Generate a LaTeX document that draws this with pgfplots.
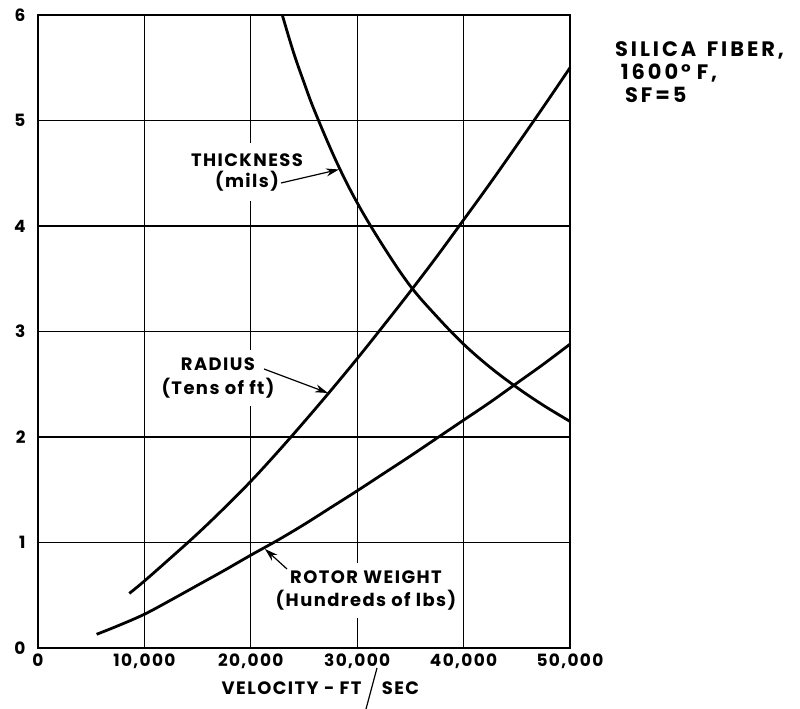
\documentclass[border=0pt]{standalone}
\usepackage{fontspec}
\setmainfont{Poppins}[LetterSpace=8]
\usepackage{pgfplots}
\pgfplotsset{compat=1.18}
\usetikzlibrary{arrows.meta}

\pgfplotstableread{
x y
8580 0.517
10000 0.635
12500 0.857
15000 1.084
17500 1.326
20000 1.580
22500 1.855
25000 2.142
27500 2.438
30000 2.743
32500 3.059
35000 3.381
37500 3.713
40000 4.058
42500 4.406
45000 4.765
47500 5.129
50000 5.5
}\radius

\pgfplotstableread{
x y
22960 6.0
24000 5.65
25000 5.36
26000 5.09
28000 4.62
30000 4.22
32500 3.80
35000 3.43
37500 3.14
40000 2.88
42500 2.66
45000 2.47
47500 2.30
50000 2.148
}\thickness

\pgfplotstableread{
x y
5510 0.13
7500 0.21
10000 0.32
12500 0.455
15000 0.595
17500 0.735
20000 0.88
22500 1.02
25000 1.17
27500 1.33
30000 1.49
32500 1.655
35000 1.82
37500 1.99
40000 2.16
42500 2.33
45000 2.51
47500 2.69
50000 2.88
}\rotor

\begin{document}
\begin{tikzpicture}[x=1bp,y=1bp,font=\bfseries]
\useasboundingbox (-38,-61) rectangle (762,648);
\begin{axis}[at={(0,0)},anchor=south west,
  scale only axis, width=532bp, height=633bp,
  xmin=0,xmax=50000,ymin=0,ymax=6,
  xtick={0,10000,20000,30000,40000,50000},
  xticklabels={0,{10,000},{20,000},{30,000},{40,000},{50,000}},
  ytick={0,1,2,3,4,5,6},
  grid=major,
  major grid style={black,line width=1.1bp},
  axis line style={black,line width=1.6bp},
  major tick length=0pt,
  tick label style={font=\bfseries\fontsize{17}{17}\selectfont},
  /pgf/number format/assume math mode=true,
  scaled x ticks=false,
  yticklabel style={xshift=-9bp},
  xticklabel style={yshift=-2bp},
  clip=false]
\addplot[black,line width=2.8bp,smooth,tension=0.6] table {\radius};
\addplot[black,line width=2.8bp,smooth,tension=0.6] table {\thickness};
\addplot[black,line width=2.8bp,smooth,tension=0.6] table {\rotor};
\end{axis}
% labels
\node[fill=white,inner xsep=2bp,inner ysep=10bp,align=center,font=\bfseries\fontsize{18}{21.3}\selectfont] at (209,475.7) {THICKNESS\\(mils)};
\draw[line width=1.2bp,-{Stealth[length=13bp,width=8bp]}] (243,465) -- (301,478.5);
\node[fill=white,inner xsep=2bp,inner ysep=8bp,align=center,font=\bfseries\fontsize{18}{24}\selectfont] at (180,270.2) {RADIUS\\(Tens of ft)};
\draw[line width=1.2bp,-{Stealth[length=13bp,width=8bp]}] (226,279) -- (290,255);
\node[fill=white,inner xsep=2bp,inner ysep=8bp,align=center,font=\bfseries\fontsize{18}{22.4}\selectfont] at (328,57.5) {ROTOR WEIGHT\\(Hundreds of lbs)};
\draw[line width=1.2bp,-{Stealth[length=13bp,width=8bp]}] (249,79) -- (227,99);
% side note
\node[anchor=west,font=\bfseries\fontsize{21}{21}\selectfont\addfontfeatures{LetterSpace=14},inner sep=0pt] at (577,598) {SILICA\hspace{0.5em}FIBER,};
\node[anchor=west,font=\bfseries\fontsize{21}{21}\selectfont\addfontfeatures{LetterSpace=14},inner sep=0pt] at (582.7,575) {1600°\kern 6bp F,};
\node[anchor=west,font=\bfseries\fontsize{21}{21}\selectfont\addfontfeatures{LetterSpace=14},inner sep=0pt] at (587,553) {SF=5};
% x label
\node[anchor=base east,font=\bfseries\fontsize{18}{18}\selectfont,inner sep=0pt] at (323.7,-47) {VELOCITY - FT};
\node[anchor=base west,font=\bfseries\fontsize{18}{18}\selectfont,inner sep=0pt] at (343.7,-47) {SEC};
\draw[line width=1.2bp] (339,-20) -- (328,-61);
\end{tikzpicture}
\end{document}
